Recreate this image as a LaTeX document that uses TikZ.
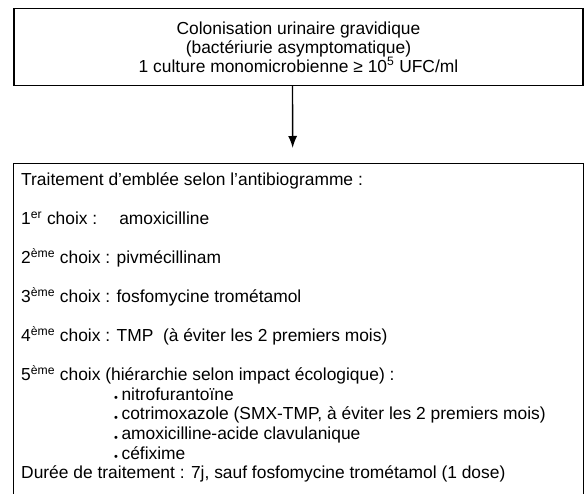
\documentclass[tikz,border=0pt]{standalone}
\usepackage{fontspec}
\setmainfont{Liberation Sans}
\usetikzlibrary{positioning}
\usetikzlibrary{arrows.meta}
\usetikzlibrary{calc}

\begin{document}
\begin{tikzpicture}[x=1pt,y=-1pt,
	cadre/.style={draw, line width=1.4pt, inner sep=0pt},
	ligne/.style={anchor=base west, inner sep=0pt, font=\fontsize{17.4}{19}\selectfont},
	fleche/.style={-{Latex[length=12pt,width=9pt]}, line width=1.4pt}
	]

	\def\dy{19.5};
	\def\yo{186};

	\useasboundingbox (0,0) rectangle (584,494);
	\clip (0,0) rectangle (584,494);

	% cadre du haut
	\node[cadre, minimum width=569pt, minimum height=77pt, align=center,
		font=\fontsize{17.4}{19}\selectfont] (colonisation) at (298.5,47)
		{Colonisation urinaire gravidique\\(bactériurie asymptomatique)\\1 culture monomicrobienne ≥ 10\textsuperscript{5} UFC/ml};

	% cadre du bas (ouvert en bas)
	\node[cadre, minimum width=570pt, minimum height=360pt, anchor=north west] (traitement) at (13,163) {};

	\draw[fleche, shorten >=15pt] ([xshift=-6pt]colonisation.south) -- ([xshift=-6pt]traitement.north);

	\foreach \k/\nom/\texte in {
		0/titre/{Traitement d’emblée selon l’antibiogramme :},
		2/choixa/{1\textsuperscript{er} choix :\hspace{22pt}amoxicilline},
		4/choixb/{2\textsuperscript{ème} choix : pivmécillinam},
		6/choixc/{3\textsuperscript{ème} choix : fosfomycine trométamol},
		8/choixd/{4\textsuperscript{ème} choix : TMP\ \ (à éviter les 2 premiers mois)},
		10/choixe/{5\textsuperscript{ème} choix (hiérarchie selon impact écologique) :},
		15/duree/{Durée de traitement : 7j, sauf fosfomycine trométamol (1 dose)}} {
		\node[ligne] (\nom) at (21, \yo + \k*\dy) {\texte};
	}

	% liste du 5eme choix
	\foreach \k/\nom/\texte in {
		11/nitro/{nitrofurantoïne},
		12/cotri/{cotrimoxazole (SMX-TMP, à éviter les 2 premiers mois)},
		13/amoxi/{amoxicilline-acide clavulanique},
		14/cefix/{céfixime}} {
		\node[ligne] (\nom) at (114, \yo + \k*\dy) {\raisebox{-1.5pt}{\fontsize{11}{11}\selectfont •}\hspace{3.5pt}\texte};
	}

\end{tikzpicture}
\end{document}
